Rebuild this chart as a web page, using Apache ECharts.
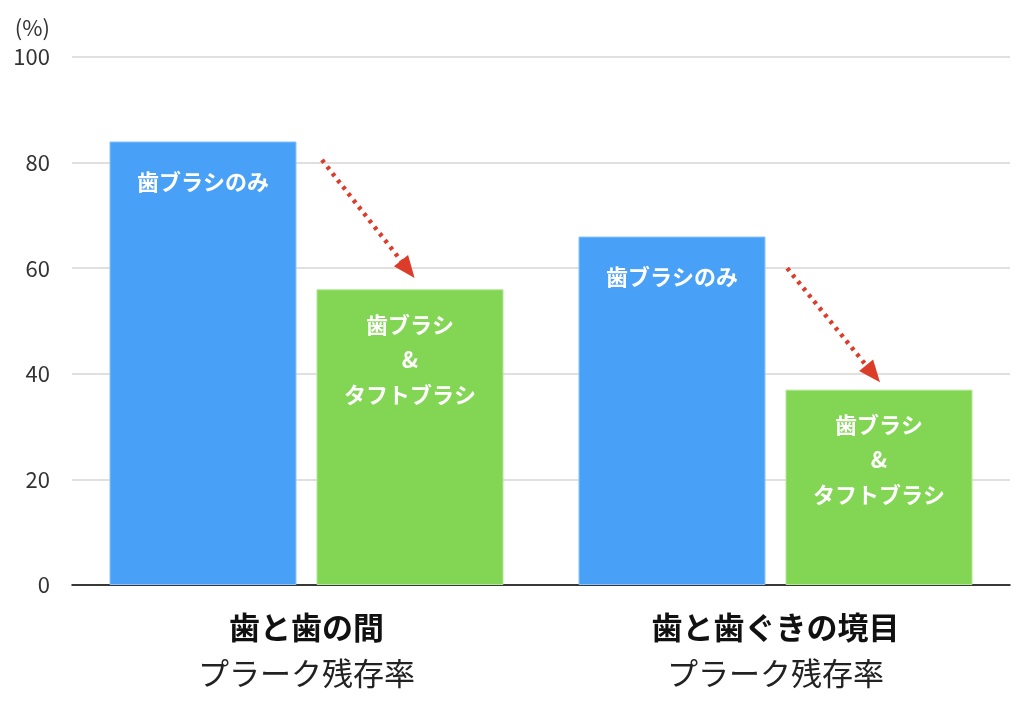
<!DOCTYPE html>
<html><head><meta charset="utf-8">
<script src="https://cdn.jsdelivr.net/npm/echarts@6/dist/echarts.min.js"></script>
<style>html,body{margin:0;padding:0;background:#fff}#c{width:1024px;height:710px}</style>
</head><body><div id="c"></div>
<script>
const categories = ['歯と歯の間', '歯と歯ぐきの境目'];
const subTitle = 'プラーク残存率';
const seriesNames = ['歯ブラシのみ', '歯ブラシ\n&\nタフトブラシ'];
const brushOnly = [84, 66];
const brushAndTuft = [56, 37];
const yTicks = [0, 20, 40, 60, 80, 100];
// arrow annotations: [startX, startY, endX, endY] on a 0..2 helper axis
const arrow1 = [0.533, 80.5, 0.716, 59.8];
const arrow2 = [1.525, 60, 1.708, 40];

const font = '"Noto Sans CJK JP", "Noto Sans", sans-serif';
const chart = echarts.init(document.getElementById('c'));
function arrowLine(a){ return [{coord:[a[0],a[1]]},{coord:[a[2],a[3]]}]; }
chart.setOption({
  animation:false,
  textStyle:{fontFamily:font},
  grid:{left:72,right:14,top:57,bottom:125},
  xAxis:[{
    type:'category', data:categories,
    axisLine:{lineStyle:{color:'#000',width:1.5}},
    axisTick:{show:false},
    axisLabel:{
      margin:19,
      formatter:v=>'{b|'+v+'}\n{s|'+subTitle+'}',
      rich:{
        b:{fontSize:31,fontWeight:'bold',color:'#111',lineHeight:46,fontFamily:font},
        s:{fontSize:31,color:'#222',lineHeight:46,fontFamily:font}
      }
    }
  },{
    type:'value', min:0, max:2, show:false
  }],
  yAxis:{
    type:'value', min:yTicks[0], max:yTicks[yTicks.length-1], interval:20,
    name:'(%)', nameLocation:'end', nameGap:18,
    nameTextStyle:{fontSize:22,color:'#333',align:'right',padding:[0,22,0,0]},
    axisLine:{show:false}, axisTick:{show:false},
    axisLabel:{fontSize:22,color:'#333',margin:22},
    splitLine:{lineStyle:{color:'#d6d6d6',width:1.5}}
  },
  series:[{
    name:seriesNames[0], type:'bar', data:brushOnly,
    barWidth:187, barGap:'10.7%',
    itemStyle:{color:'#49a0f7',borderColor:'#8cc4f9',borderWidth:1},
    label:{show:true,position:'insideTop',distance:29,formatter:seriesNames[0],
      color:'#fff',fontSize:22,fontWeight:'bold',fontFamily:font}
  },{
    name:seriesNames[1], type:'bar', data:brushAndTuft,
    barWidth:187,
    itemStyle:{color:'#83d654',borderColor:'#b2e694',borderWidth:1},
    label:{show:true,position:'insideTop',distance:18,formatter:seriesNames[1],
      color:'#fff',fontSize:22,fontWeight:'bold',lineHeight:35,fontFamily:font}
  },{
    type:'line', xAxisIndex:1, data:[[arrow1[0],arrow1[1]]], symbol:'none',
    lineStyle:{opacity:0}, silent:true,
    markLine:{
      silent:true, symbol:['none','triangle'], symbolSize:[18,22],
      label:{show:false},
      lineStyle:{color:'#dc3d2a',width:4.5,type:[3.5,5],cap:'butt'},
      emphasis:{disabled:true},
      data:[arrowLine(arrow1), arrowLine(arrow2)]
    }
  }]
});
</script></body></html>
